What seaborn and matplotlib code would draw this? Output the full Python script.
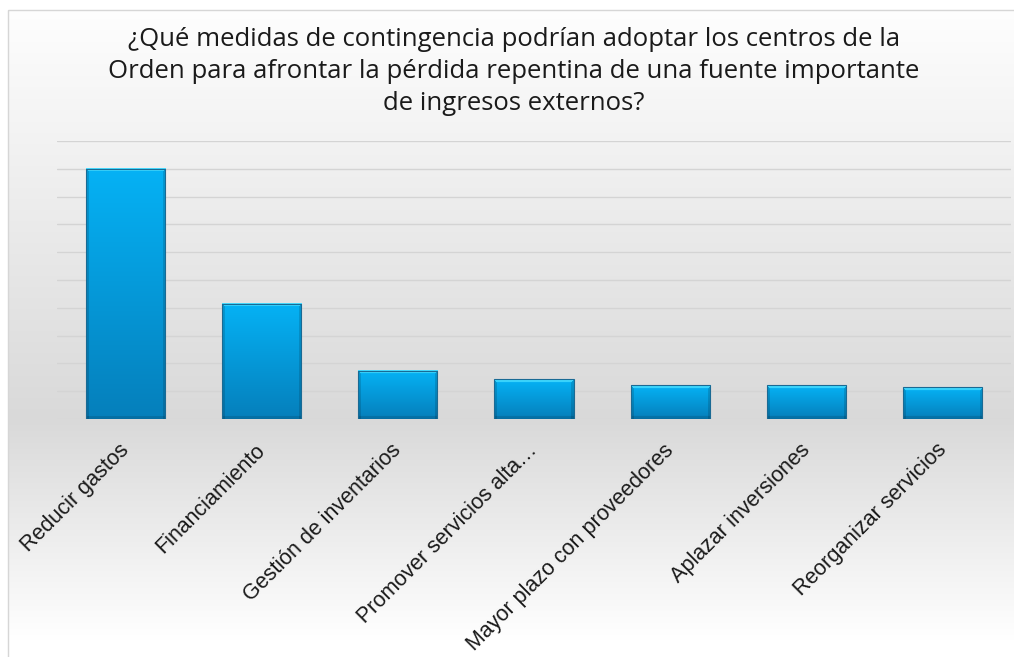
import numpy as np
import pandas as pd
import seaborn as sns
import matplotlib.pyplot as plt
import matplotlib.transforms as mtransforms
from matplotlib.patches import Rectangle

categories = ["Reducir gastos", "Financiamiento", "Gestión de inventarios",
              "Promover servicios alta…", "Mayor plazo con proveedores",
              "Aplazar inversiones", "Reorganizar servicios"]
values = [90, 41.4, 17.3, 14.3, 12.1, 12.1, 11.4]
title = ("¿Qué medidas de contingencia podrían adoptar los centros de la\n"
         "Orden para afrontar la pérdida repentina de una fuente importante\n"
         "de ingresos externos?")

df = pd.DataFrame({"medida": categories, "valor": values})

sns.set_theme(style="white")
plt.rcParams["font.family"] = ["Liberation Sans", "DejaVu Sans"]

W, H = 1014, 657
fig = plt.figure(figsize=(W / 100, H / 100), dpi=100)

# chart area background: white -> grey at the baseline -> white
bg = fig.add_axes([0, 0, 1, 1], zorder=0)
py = np.arange(10, H + 1)
shade = np.interp(py, [10, 141, 419, 640], [0.995, 0.95, 0.851, 1.0])
grad = np.repeat(shade[:, None], 2, axis=1)
bg.imshow(np.dstack([grad] * 3), extent=[8, W + 5, H + 1, 10], aspect="auto",
          interpolation="bilinear")
bg.add_patch(Rectangle((8, 10), W, H, fill=False, edgecolor="#d6d6d6", lw=1))
bg.set_xlim(0, W)
bg.set_ylim(H, 0)
bg.axis("off")

ax = fig.add_axes([57 / W, 1 - 419 / H, (1011 - 57) / W, (419 - 141) / H], zorder=1)
ax.set_facecolor("none")

sns.barplot(data=df, x="medida", y="valor", ax=ax, color="#06a6e6", width=0.58,
            saturation=1, edgecolor="#1a6a94", linewidth=0.8)

# per-bar vertical gradient with a bevelled look
top_c = np.array([0x05, 0xb2, 0xf5]) / 255
bot_c = np.array([0x06, 0x7f, 0xbb]) / 255
hi_c = np.array([0x48, 0xdc, 0xff]) / 255
px_per_unit = (419 - 141) / 100
for p in list(ax.patches):
    x0, w, h = p.get_x(), p.get_width(), p.get_height()
    n = max(int(h * px_per_unit), 6)
    m = 80
    t = np.linspace(0, 1, n)[:, None, None]
    img = np.repeat(top_c * (1 - t) + bot_c * t, m, axis=1)
    img[:, :3] *= 0.86
    img[:, -3:] *= 0.86
    img[-3:] *= 0.88
    for k in range(3):
        img[k, k:m - k] = hi_c * (1 - 0.12 * k) + top_c * 0.12 * k
    ax.imshow(np.clip(img, 0, 1), extent=[x0, x0 + w, 0, h],
              aspect="auto", interpolation="bilinear", zorder=2)
    p.set_facecolor("none")
    p.set_zorder(3)

ax.set_xlim(-0.5, len(categories) - 0.5)
ax.set_ylim(0, 100)
ax.set_yticks(np.arange(0, 101, 10))
ax.yaxis.grid(True, color="#d4d4d4", lw=1)
ax.set_axisbelow(True)
ax.tick_params(axis="y", left=False, labelleft=False)
ax.tick_params(axis="x", length=0, pad=12)
ax.set_xticks(range(len(categories)))
ax.set_xticklabels(categories, rotation=45, ha="right", rotation_mode="anchor",
                   fontsize=15.5, color="#1a1a1a")
shift = mtransforms.ScaledTranslation(-7 / 100, -4 / 100, fig.dpi_scale_trans)
for lab in ax.get_xticklabels():
    lab.set_transform(lab.get_transform() + shift)
ax.set_xlabel("")
ax.set_ylabel("")
sns.despine(ax=ax, left=True, bottom=True)

fig.text(514 / W, 1 - 27 / H, title, ha="center", va="top", fontsize=18.5,
         color="#1a1a1a", linespacing=1.36,
         family=["Open Sans", "DejaVu Sans"])

fig.savefig("out.png", dpi=100)
